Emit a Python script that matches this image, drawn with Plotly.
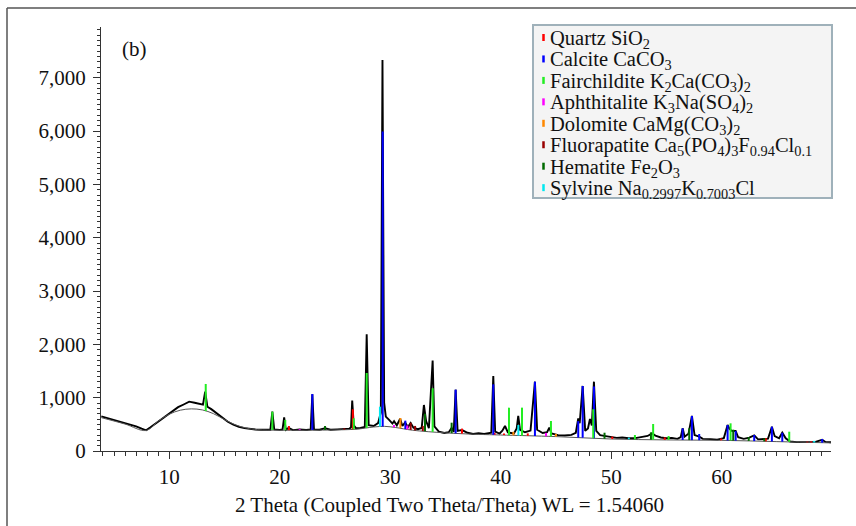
import numpy as np
import plotly.graph_objects as go

# ---------------- data ----------------
obs_x = [3.85, 4.5, 5.0, 5.5, 6.0, 6.5, 7.0, 7.5, 7.9, 8.3, 8.8, 9.3, 9.8, 10.3, 10.8, 11.3, 11.8,
         12.3, 12.8, 13.05, 13.25, 13.45, 13.8, 14.3, 14.8, 15.3, 15.8, 16.3, 16.8, 17.3, 17.8, 18.3,
         18.8, 19.15, 19.33, 19.5, 20.0, 20.25, 20.4, 20.55, 20.8, 21.2, 21.8, 22.4, 22.8, 22.95, 23.1,
         23.6, 24.1, 24.6, 25.2, 25.8, 26.3, 26.45, 26.56, 26.7, 26.9, 27.3, 27.7, 27.87, 28.05, 28.5,
         28.9, 29.15, 29.3, 29.45, 29.6, 29.9, 30.2, 30.35, 30.6, 30.9, 31.1, 31.35, 31.6, 31.85, 32.1,
         32.5, 32.85, 33.05, 33.25, 33.5, 33.84, 34.0, 34.4, 34.9, 35.3, 35.56, 35.75, 35.92, 36.1,
         36.5, 37.0, 37.5, 38.0, 38.5, 39.0, 39.15, 39.33, 39.5, 39.9, 40.15, 40.39, 40.65, 41.2,
         41.45, 41.59, 41.75, 42.2, 42.7, 43.1, 43.3, 43.8, 44.2, 44.4, 44.6, 45.2, 45.8, 46.4, 46.8,
         47.02, 47.15, 47.42, 47.65, 47.9, 48.08, 48.25, 48.44, 48.65, 49.0, 49.5, 50.0, 50.5, 51.0,
         51.6, 52.2, 52.8, 53.3, 53.7, 54.0, 54.5, 55.0, 55.5, 56.0, 56.3, 56.47, 56.65, 57.0, 57.31,
         57.55, 57.97, 58.3, 59.0, 59.6, 60.2, 60.54, 60.7, 60.9, 61.27, 61.5, 62.0, 62.5, 62.95, 63.3,
         63.86, 64.2, 64.55, 64.8, 65.2, 65.49, 65.8, 66.2, 66.8, 67.5, 68.0, 68.5, 69.1, 69.4, 69.9]
obs_y = [650, 612, 585, 552, 525, 488, 462, 418, 388, 445, 522, 598, 684, 748, 822, 872, 925,
         905, 884, 868, 1113, 830, 785, 702, 618, 548, 492, 452, 428, 412, 402, 398,
         406, 398, 737, 405, 396, 402, 632, 398, 432, 392, 402, 394, 406, 1065, 404,
         398, 425, 398, 406, 412, 420, 442, 944, 482, 428, 432, 452, 2190, 482, 468,
         522, 720, 7330, 905, 645, 585, 515, 560, 482, 605, 468, 535, 448, 525, 438,
         410, 432, 863, 560, 428, 1694, 462, 362, 338, 352, 432, 358, 1150, 378,
         392, 342, 318, 332, 320, 332, 342, 1405, 362, 328, 382, 469, 348, 328,
         422, 657, 398, 352, 382, 1300, 398, 338, 352, 437, 328, 298, 292, 302, 342,
         613, 520, 1220, 378, 422, 600, 478, 1300, 378, 298, 280, 258, 246, 252,
         238, 242, 262, 282, 330, 288, 254, 238, 246, 228, 262, 425, 268, 322, 657,
         298, 268, 228, 222, 214, 242, 488, 420, 378, 375, 258, 228, 252, 292, 218,
         226, 232, 456, 278, 238, 343, 238, 178, 166, 160, 166, 172, 210, 170, 165]

bg_x = [3.85, 6.0, 7.9, 9.0, 10.0, 11.0, 12.0, 13.0, 14.0, 15.0, 16.0, 17.0, 18.0, 20.0, 25.0,
        27.0, 28.5, 29.5, 30.5, 32.0, 35.0, 38.0, 40.0, 45.0, 50.0, 55.0, 60.0, 65.0, 69.9]
bg_y = [625, 505, 385, 560, 690, 765, 790, 770, 700, 590, 490, 430, 400, 390, 395,
        410, 450, 462, 440, 390, 340, 312, 300, 270, 225, 208, 200, 176, 152]

phases = ["Quartz SiO<sub>2</sub>",
          "Calcite CaCO<sub>3</sub>",
          "Fairchildite K<sub>2</sub>Ca(CO<sub>3</sub>)<sub>2</sub>",
          "Aphthitalite K<sub>3</sub>Na(SO<sub>4</sub>)<sub>2</sub>",
          "Dolomite CaMg(CO<sub>3</sub>)<sub>2</sub>",
          "Fluorapatite Ca<sub>5</sub>(PO<sub>4</sub>)<sub>3</sub>F<sub>0.94</sub>Cl<sub>0.1</sub>",
          "Hematite Fe<sub>2</sub>O<sub>3</sub>",
          "Sylvine Na<sub>0.2997</sub>K<sub>0.7003</sub>Cl"]
phase_colors = ["#ff0000", "#0000ff", "#22ee22", "#ff00ff", "#ff8800", "#990000", "#006a00", "#00e8f0"]

quartz_pos = [20.83, 26.62, 36.5, 39.45, 40.3, 42.45, 50.1, 54.85, 59.95, 64.0, 67.75, 68.1]
quartz_top = [469, 782, 420, 340, 330, 330, 270, 255, 235, 240, 175, 180]
calcite_pos = [22.95, 29.32, 31.37, 35.92, 39.33, 43.1, 47.02, 47.42, 48.44, 56.47, 57.31, 57.97,
               60.54, 61.27, 62.95, 64.55, 65.49, 69.1]
calcite_top = [1069, 5990, 569, 1150, 1250, 1300, 560, 1219, 1210, 425, 657, 319,
               488, 375, 300, 456, 343, 225]
fairch_pos = [13.3, 19.33, 20.5, 26.7, 27.87, 33.84, 40.75, 41.93, 44.55, 48.38, 52.15, 53.8,
              55.2, 60.81, 66.12]
fairch_top = [1257, 737, 583, 613, 1463, 1176, 813, 813, 563, 782, 300, 506,
              281, 519, 362]
aphth_pos = [21.8, 30.34, 31.55, 44.1]
aphth_top = [410, 488, 480, 340]
dolo_pos = [30.92, 41.15, 45.0]
dolo_top = [619, 360, 320]
fluor_pos = [25.85, 31.85, 32.25, 32.95]
fluor_top = [425, 531, 470, 470]
hema_pos = [24.1, 33.15, 35.56, 49.4, 53.6, 57.07, 61.05, 62.45, 63.86]
hema_top = [469, 700, 531, 343, 350, 425, 400, 260, 237]
sylv_pos = [29.07, 41.6, 51.6, 68.38]
sylv_top = [831, 488, 250, 190]

stick_pos = [quartz_pos, calcite_pos, fairch_pos, aphth_pos, dolo_pos, fluor_pos, hema_pos, sylv_pos]
stick_top = [quartz_top, calcite_top, fairch_top, aphth_top, dolo_top, fluor_top, hema_top, sylv_top]

y_ticks = [0, 1000, 2000, 3000, 4000, 5000, 6000, 7000]
x_ticks = [10, 20, 30, 40, 50, 60]
x_title = "2 Theta (Coupled Two Theta/Theta) WL = 1.54060"
panel_label = "(b)"

# ---------------- figure ----------------
FONT = "Liberation Serif"
W, H = 856, 526
ML, MR, MT, MB = 101, 25, 27, 75
PW, PH = W - ML - MR, H - MT - MB

def px2x(px):
    return (px - ML) / PW

def py2y(py):
    return (MT + PH - py) / PH

fig = go.Figure()

fig.add_trace(go.Scatter(x=obs_x, y=obs_y, mode="lines",
                         line=dict(color="#000000", width=1.9), showlegend=False,
                         hoverinfo="skip"))
fig.add_trace(go.Scatter(x=bg_x, y=bg_y, mode="lines", line_shape="spline",
                         line=dict(color="#555555", width=1), showlegend=False,
                         hoverinfo="skip"))

for name, col, pos, top in zip(phases, phase_colors, stick_pos, stick_top):
    xs, ys = [], []
    for p, t in zip(pos, top):
        base = float(np.interp(p, bg_x, bg_y))
        xs += [p, p, None]
        ys += [base, t, None]
    fig.add_trace(go.Scatter(x=xs, y=ys, mode="lines", line=dict(color=col, width=2),
                             name=name, showlegend=False, hoverinfo="skip"))

shapes = []
# outer frame (top and left edges)
shapes.append(dict(type="line", xref="paper", yref="paper", x0=px2x(7), x1=px2x(860),
                   y0=py2y(8), y1=py2y(8), line=dict(color="#555555", width=1.5)))
shapes.append(dict(type="line", xref="paper", yref="paper", x0=px2x(7), x1=px2x(7),
                   y0=py2y(8), y1=py2y(530), line=dict(color="#555555", width=1.5)))
# legend box
shapes.append(dict(type="rect", xref="paper", yref="paper", x0=px2x(533), x1=px2x(832),
                   y0=py2y(198), y1=py2y(25), fillcolor="#f4f4f4",
                   line=dict(color="#9fb1ba", width=2), layer="below"))

annotations = []
for i, (name, col) in enumerate(zip(phases, phase_colors)):
    cy = 39.5 + 21.45 * i
    shapes.append(dict(type="line", xref="paper", yref="paper", x0=px2x(543.5), x1=px2x(543.5),
                       y0=py2y(cy + 1.5), y1=py2y(cy - 5.5), line=dict(color=col, width=2.5)))
    annotations.append(dict(text=name, xref="paper", yref="paper", x=px2x(548), y=py2y(cy),
                            xanchor="left", yanchor="middle", showarrow=False,
                            font=dict(family=FONT, size=20.5, color="#111111")))

annotations.append(dict(text=panel_label, xref="paper", yref="paper", x=px2x(120), y=py2y(49),
                        xanchor="left", yanchor="middle", showarrow=False,
                        font=dict(family=FONT, size=21, color="#111111")))
annotations.append(dict(text=x_title, xref="paper", yref="paper", x=px2x(449), y=py2y(505),
                        xanchor="center", yanchor="middle", showarrow=False,
                        font=dict(family=FONT, size=21, color="#111111")))

fig.update_layout(
    width=W, height=H,
    margin=dict(l=ML, r=MR, t=MT, b=MB),
    paper_bgcolor="white", plot_bgcolor="white",
    showlegend=False,
    shapes=shapes, annotations=annotations,
    font=dict(family=FONT, size=21, color="#111111"),
)
fig.update_xaxes(range=[3.82, 69.9], tickvals=x_ticks, showgrid=False, zeroline=False,
                 showline=True, linecolor="#333333", linewidth=1,
                 ticks="outside", ticklen=7, tickcolor="#333333",
                 minor=dict(dtick=1, ticks="outside", ticklen=3.5, tickcolor="#333333", showgrid=False),
                 tickfont=dict(family=FONT, size=21, color="#111111"))
fig.update_yaxes(range=[0, 7950], tickvals=y_ticks, tickformat=",d", showgrid=False, zeroline=False,
                 showline=True, linecolor="#333333", linewidth=1,
                 ticks="outside", ticklen=7, tickcolor="#333333", ticklabelstandoff=3,
                 minor=dict(dtick=100, ticks="outside", ticklen=3, tickcolor="#333333", showgrid=False),
                 tickfont=dict(family=FONT, size=21, color="#111111"))

fig.write_html("out.html")
